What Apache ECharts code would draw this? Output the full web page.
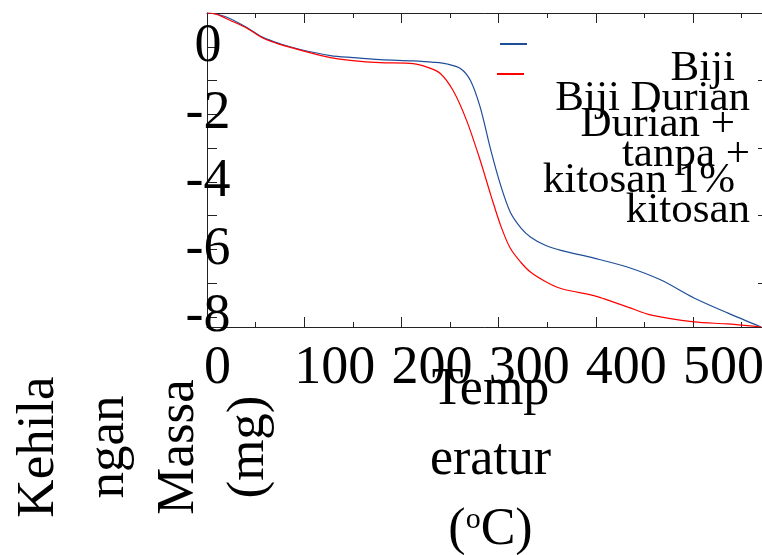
<!DOCTYPE html>
<html lang="id">
<head>
    <meta charset="UTF-8">
    <title>TGA Biji Durian</title>
    <script type="text/javascript" src="https://cdn.jsdelivr.net/npm/echarts@6/dist/echarts.min.js"></script>
    <style>
        html, body { margin: 0; padding: 0; background: #fff; }
        #chart { width: 762px; height: 555px; }
    </style>
</head>
<body>
<div id="chart"></div>

<script>
    // data (suhu, kehilangan massa)
    var seriesNames = ['Biji Durian + kitosan 1%', 'Biji Durian tanpa + kitosan'];
    var legendLines = [
        ['Biji', 'Durian +', 'kitosan 1%'],
        ['Biji Durian', 'tanpa +', 'kitosan']
    ];
    var seriesColors = ['#1f4e99', '#ff0000'];

    var tempBlue = [0, 10, 24, 41, 58, 75, 96, 127, 150, 178, 212, 233, 247, 261, 271, 281, 292, 302, 312, 323, 333, 348, 364, 398, 433, 467, 501, 536, 570];
    var massBlue = [1.0, 0.97, 0.83, 0.57, 0.27, 0.09, -0.08, -0.26, -0.32, -0.38, -0.42, -0.46, -0.51, -0.65, -1.0, -1.79, -3.07, -4.1, -4.9, -5.37, -5.64, -5.88, -6.03, -6.26, -6.53, -6.91, -7.44, -7.89, -8.3];

    var tempRed = [0, 10, 24, 41, 58, 75, 96, 127, 150, 178, 212, 227, 240, 253, 267, 281, 292, 302, 312, 323, 333, 348, 364, 398, 408, 433, 457, 501, 536, 570];
    var massRed = [1.0, 0.96, 0.78, 0.55, 0.25, 0.07, -0.1, -0.32, -0.41, -0.47, -0.5, -0.61, -0.79, -1.29, -2.18, -3.36, -4.4, -5.29, -5.97, -6.39, -6.68, -6.95, -7.16, -7.37, -7.46, -7.71, -7.95, -8.15, -8.21, -8.3];

    var xName = 'Temp\neratur\n({sup|o}C)';
    // baris kosong di akhir menggeser blok nama ke kiri
    var yName = 'Kehila\nngan\nMassa\n(mg)\n{gap| }';

    var font = 'Liberation Serif';
    var myChart = echarts.init(document.getElementById('chart'));

    function pairs(xs, ys) {
        var out = [];
        for (var i = 0; i < xs.length; i++) {
            out.push([xs[i], ys[i]]);
        }
        return out;
    }

    var legendLeft = [500, 497];
    var legendTop = [-121, -91];
    var legendWidth = [203, 221];

    var legends = [];
    for (var i = 0; i < seriesNames.length; i++) {
        (function (k) {
            legends.push({
                data: [seriesNames[k]],
                orient: 'vertical',
                left: legendLeft[k],
                top: legendTop[k],
                padding: 0,
                icon: 'rect',
                itemWidth: 27,
                itemHeight: 2,
                formatter: function () {
                    return '{r|' + legendLines[k].join('\n') + '}';
                },
                textStyle: {
                    fontFamily: font,
                    fontSize: 43,
                    lineHeight: 56,
                    width: legendWidth[k],
                    padding: [162, 0, 0, 0],
                    color: '#000',
                    rich: {
                        r: {fontFamily: font, fontSize: 43, lineHeight: 56, align: 'right', color: '#000'}
                    }
                }
            });
        })(i);
    }

    var axisLineStyle = {show: true, onZero: false, lineStyle: {color: '#222', width: 1}};

    option = {
        animation: false,
        backgroundColor: '#ffffff',
        textStyle: {fontFamily: font},
        grid: {left: 207, top: 13, width: 559, height: 314, containLabel: false, outerBoundsMode: 'none'},
        legend: legends,
        xAxis: [{
            type: 'value',
            min: 0,
            max: 575,
            position: 'bottom',
            name: xName,
            nameLocation: 'middle',
            nameGap: 28,
            nameMoveOverlap: false,
            nameTextStyle: {
                fontFamily: font, fontSize: 52, lineHeight: 70, color: '#000',
                align: 'center', verticalAlign: 'top',
                padding: [0, 0, 0, 8],
                rich: {sup: {fontFamily: font, fontSize: 30, lineHeight: 70, verticalAlign: 'top', padding: [10, 0, 0, 0], color: '#000'}}
            },
            axisLine: axisLineStyle,
            axisTick: {show: true, inside: true, length: 10, lineStyle: {color: '#222'}},
            minorTick: {show: true, splitNumber: 2, length: 5, lineStyle: {color: '#222'}},
            axisLabel: {
                fontFamily: font, fontSize: 54, color: '#000', margin: 15,
                align: 'left', padding: [0, 0, 0, -10],
                showMinLabel: true, showMaxLabel: false,
                formatter: function (v) {
                    return v === 0 ? '{z|0}' : String(v);
                },
                rich: {z: {fontFamily: font, fontSize: 54, color: '#000', padding: [0, 0, 0, 7]}}
            },
            splitLine: {show: false},
            minorSplitLine: {show: false}
        }, {
            type: 'value',
            min: 0,
            max: 575,
            position: 'top',
            axisLine: axisLineStyle,
            axisTick: {show: true, inside: true, length: 10, lineStyle: {color: '#222'}},
            minorTick: {show: true, splitNumber: 2, length: 5, lineStyle: {color: '#222'}},
            axisLabel: {show: false},
            splitLine: {show: false}
        }],
        yAxis: [{
            type: 'value',
            min: -8.3,
            max: 1,
            position: 'left',
            name: yName,
            nameLocation: 'start',
            nameGap: 120,
            nameRotate: 90,
            nameMoveOverlap: false,
            nameTextStyle: {
                fontFamily: font, fontSize: 53, lineHeight: 70, color: '#000',
                align: 'center', verticalAlign: 'middle',
                rich: {gap: {fontFamily: font, fontSize: 10, lineHeight: 126}}
            },
            axisLine: axisLineStyle,
            axisTick: {show: true, inside: true, length: 10, lineStyle: {color: '#222'}},
            minorTick: {show: true, splitNumber: 2, length: 10, lineStyle: {color: '#222'}},
            axisLabel: {
                fontFamily: font, fontSize: 54, color: '#000', margin: -1,
                align: 'center', verticalAlign: 'middle',
                padding: [0, 0, 6, 0],
                showMinLabel: false, showMaxLabel: false
            },
            splitLine: {show: false}
        }, {
            type: 'value',
            min: -8.3,
            max: 1,
            position: 'right',
            axisLine: axisLineStyle,
            axisTick: {show: true, inside: true, length: 3, lineStyle: {color: '#222'}},
            minorTick: {show: true, splitNumber: 2, length: 8, lineStyle: {color: '#222'}},
            axisLabel: {show: false},
            splitLine: {show: false}
        }],
        series: [{
            name: seriesNames[0],
            type: 'line',
            data: pairs(tempBlue, massBlue),
            symbol: 'none',
            showSymbol: false,
            smooth: 0.3,
            color: seriesColors[0],
            lineStyle: {color: seriesColors[0], width: 1.2}
        }, {
            name: seriesNames[1],
            type: 'line',
            data: pairs(tempRed, massRed),
            symbol: 'none',
            showSymbol: false,
            smooth: 0.3,
            color: seriesColors[1],
            lineStyle: {color: seriesColors[1], width: 1.2}
        }]
    };
    myChart.setOption(option);
</script>
</body>
</html>
